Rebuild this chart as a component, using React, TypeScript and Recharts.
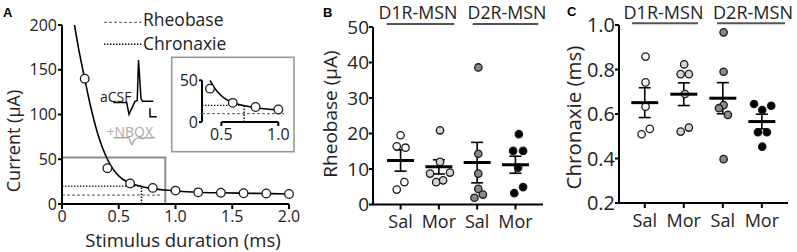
import React from "react";
import {
  ComposedChart,
  LineChart,
  Line,
  Scatter,
  XAxis,
  YAxis,
  ReferenceLine,
  ReferenceArea,
  ErrorBar,
} from "recharts";

const FONT = "'Open Sans', sans-serif";
const INK = "#222";

// ---- Panel A: strength-duration curve ----
const durations = [0.2, 0.4, 0.6, 0.8, 1.0, 1.2, 1.4, 1.6, 1.8, 2.0];
const currents = [140, 40, 23, 18, 15, 13, 12.6, 12, 11.8, 11.2];
// fitted curve
const fitDur = [0.11, 0.15, 0.2, 0.25, 0.3, 0.35, 0.4, 0.45, 0.5, 0.55, 0.6, 0.7, 0.8, 0.9, 1.0, 1.2, 1.4, 1.6, 1.8, 2.0];
const fitCur = [200, 171, 140, 110, 85, 65, 50, 39, 31.5, 26.5, 23.5, 19.5, 17.2, 15.6, 14.6, 13.2, 12.5, 12, 11.7, 11.2];
const rheobase = 10;
const chronaxie = 0.7;
const xTicksA = [0, 0.5, 1, 1.5, 2];
const yTicksA = [0, 50, 100, 150, 200];

// example traces (time ms, amplitude a.u.)
const acsfT = [0.66, 3.34, 3.8, 5.0, 5.45, 5.7, 6.2, 6.5, 8.66];
const acsfV = [0, 0, -3, 0.3, 0.5, 10.7, 1, 0.3, 0.3];
const nbqxT = [0.66, 3.8, 4.05, 4.35, 4.8, 5.4, 9.0];
const nbqxV = [-8.9, -8.9, -9.8, -10.7, -9.6, -9.0, -8.9];

// ---- Panels B and C ----
const conditions = ["Sal", "Mor", "Sal", "Mor"];

const rheoD1SalX = [1.0, 0.9, 1.13, 1.1, 0.9];
const rheoD1Sal = [19.5, 16.4, 16.0, 6.3, 4.2];
const rheoD1MorX = [2.03, 2.03, 1.77, 2.29, 1.93, 2.11];
const rheoD1Mor = [20.9, 12.0, 8.7, 9.0, 6.3, 6.8];
const rheoD2SalX = [3.03, 3.03, 3.03, 3.03, 3.15, 2.93];
const rheoD2Sal = [38.6, 14.3, 8.7, 4.4, 2.8, 1.9];
const rheoD2MorX = [4.09, 3.94, 4.2, 4.07, 4.2, 3.97];
const rheoD2Mor = [19.8, 15.1, 15.1, 10.4, 4.9, 3.2];
const rheoMean = [12.4, 10.6, 11.8, 11.2];
const rheoSem = [3.0, 2.0, 5.7, 2.4];

const chronD1SalX = [1.02, 1.02, 1.02, 1.13, 0.92];
const chronD1Sal = [0.858, 0.742, 0.633, 0.533, 0.509];
const chronD1MorX = [2.01, 1.92, 2.13, 2.03, 1.92, 2.13];
const chronD1Mor = [0.823, 0.779, 0.779, 0.69, 0.521, 0.539];
const chronD2SalX = [3.02, 3.02, 3.02, 2.9, 3.13, 3.02];
const chronD2Sal = [0.967, 0.79, 0.64, 0.626, 0.596, 0.397];
const chronD2MorX = [3.8, 4.24, 4.01, 3.9, 4.13, 4.01];
const chronD2Mor = [0.645, 0.637, 0.618, 0.518, 0.518, 0.453];
const chronMean = [0.651, 0.689, 0.671, 0.566];
const chronSem = [0.067, 0.051, 0.07, 0.033];

const groupFills = ["#ffffff", "#d4d4d4", "#8a8a8a", "#000000"];

const axisLine = { stroke: "#000", strokeWidth: 2 };

const zip = (xs: number[], ys: number[]) => xs.map((x, i) => ({ x, y: ys[i] }));

const dot = (fill: string, r: number) => (p: any) => (
  <circle cx={p.cx} cy={p.cy} r={r} fill={fill} stroke="#1a1a1a" strokeWidth={1.3} />
);

const meanBar = (p: any) => (
  <line x1={p.cx - 13.5} x2={p.cx + 13.5} y1={p.cy} y2={p.cy} stroke="#000" strokeWidth={3} />
);

function PanelA() {
  const pts = zip(durations, currents);
  const fit = zip(fitDur, fitCur);
  const tick = { fill: INK, fontSize: 16, fontFamily: FONT };
  return (
    <ComposedChart width={300} height={252} margin={{ top: 25, right: 11, bottom: 0, left: 0 }}>
      <XAxis
        type="number"
        dataKey="x"
        domain={[0, 2]}
        ticks={xTicksA}
        tickFormatter={(v: number) => (v === 0 ? "0" : v.toFixed(1))}
        height={48}
        axisLine={axisLine}
        tickLine={axisLine}
        tickSize={5}
        tickMargin={2}
        tick={tick}
        interval={0}
      />
      <YAxis
        type="number"
        dataKey="y"
        domain={[0, 200]}
        ticks={yTicksA}
        width={62}
        axisLine={axisLine}
        tickLine={axisLine}
        tickSize={4}
        tickMargin={1}
        tick={tick}
        interval={0}
        allowDataOverflow
      />
      <ReferenceArea x1={0} x2={0.91} y1={0} y2={52} fill="none" stroke="#8c8c8c" strokeWidth={2} />
      <ReferenceLine segment={[{ x: 0, y: rheobase }, { x: 0.88, y: rheobase }]} stroke="#777" strokeWidth={1.3} strokeDasharray="3 2" />
      <ReferenceLine segment={[{ x: 0, y: 2 * rheobase }, { x: chronaxie, y: 2 * rheobase }]} stroke="#000" strokeWidth={1.4} strokeDasharray="1.4 1.6" />
      <ReferenceLine segment={[{ x: chronaxie, y: 0 }, { x: chronaxie, y: 2 * rheobase }]} stroke="#000" strokeWidth={1.4} strokeDasharray="1.4 1.6" />
      <Line data={fit} dataKey="y" type="monotone" dot={false} stroke="#000" strokeWidth={1.6} isAnimationActive={false} />
      <Scatter data={pts} dataKey="y" shape={dot("#fff", 4.3)} isAnimationActive={false} />
    </ComposedChart>
  );
}

function InsetA() {
  const pts = zip(durations, currents).filter((d) => d.x <= 1.0 && d.x >= 0.4);
  const fit = zip(fitDur, fitCur).filter((d) => d.x <= 1.0 && d.x >= 0.4);
  const tick = { fill: INK, fontSize: 16, fontFamily: FONT };
  return (
    <ComposedChart width={125} height={95} margin={{ top: 17, right: 11, bottom: 0, left: 0 }}>
      <XAxis
        type="number"
        dataKey="x"
        domain={[0.33, 1.05]}
        ticks={[0.5, 1.0]}
        tickFormatter={(v: number) => v.toFixed(1)}
        height={28}
        axisLine={false}
        tickLine={axisLine}
        tickSize={4}
        tickMargin={3}
        tick={tick}
        interval={0}
        allowDataOverflow
      />
      <YAxis
        type="number"
        dataKey="y"
        domain={[0, 60]}
        ticks={[0, 50]}
        width={32}
        axisLine={false}
        tickLine={axisLine}
        tickSize={3}
        tickMargin={1}
        tick={tick}
        interval={0}
        allowDataOverflow
      />
      <ReferenceLine segment={[{ x: 0.33, y: 0 }, { x: 0.33, y: 50 }]} stroke="#000" strokeWidth={2} ifOverflow="visible" />
      <ReferenceLine segment={[{ x: 0.5, y: 0 }, { x: 1.0, y: 0 }]} stroke="#000" strokeWidth={2} ifOverflow="visible" />
      <ReferenceLine segment={[{ x: 0.33, y: rheobase }, { x: 1.05, y: rheobase }]} stroke="#777" strokeWidth={1.3} strokeDasharray="3 2" />
      <ReferenceLine segment={[{ x: 0.33, y: 2 * rheobase }, { x: chronaxie, y: 2 * rheobase }]} stroke="#000" strokeWidth={1.4} strokeDasharray="1.4 1.6" />
      <ReferenceLine segment={[{ x: chronaxie, y: 0 }, { x: chronaxie, y: 2 * rheobase }]} stroke="#000" strokeWidth={1.4} strokeDasharray="1.4 1.6" />
      <Line data={fit} dataKey="y" type="monotone" dot={false} stroke="#000" strokeWidth={1.6} isAnimationActive={false} />
      <Scatter data={pts} dataKey="y" shape={dot("#fff", 4.3)} isAnimationActive={false} />
    </ComposedChart>
  );
}

function Traces() {
  const acsf = acsfT.map((t, i) => ({ t, v: acsfV[i] }));
  const nbqx = nbqxT.map((t, i) => ({ t, v: nbqxV[i] }));
  return (
    <LineChart width={50} height={95} margin={{ top: 0, right: 0, bottom: 0, left: 0 }}>
      <XAxis type="number" dataKey="t" domain={[0, 10]} hide height={0} allowDataOverflow />
      <YAxis type="number" domain={[-12, 12]} hide width={0} allowDataOverflow />
      <Line data={acsf} dataKey="v" type="linear" dot={false} stroke="#000" strokeWidth={1.5} isAnimationActive={false} />
      <Line data={nbqx} dataKey="v" type="monotone" dot={false} stroke="#aaa" strokeWidth={1.5} isAnimationActive={false} />
    </LineChart>
  );
}

interface DotPlotProps {
  groups: { x: number[]; y: number[] }[];
  mean: number[];
  sem: number[];
  xDomain: [number, number];
  yDomain: [number, number];
  yTicks: number[];
  yFmt: (v: number) => string;
  width: number;
  yWidth: number;
  top: number;
  right: number;
  xHeight: number;
  tickFont: number;
}

function DotPlot(p: DotPlotProps) {
  const means = p.mean.map((m, i) => ({ x: i + 1, y: m, sem: p.sem[i] }));
  return (
    <ComposedChart width={p.width} height={252} margin={{ top: p.top, right: p.right, bottom: 0, left: 0 }}>
      <XAxis
        type="number"
        dataKey="x"
        domain={p.xDomain}
        ticks={[1, 2, 3, 4]}
        tickFormatter={(v: number) => conditions[Math.round(v) - 1]}
        height={p.xHeight}
        axisLine={axisLine}
        tickLine={axisLine}
        tickSize={5}
        tickMargin={6}
        tick={{ fill: INK, fontSize: 18, fontFamily: FONT }}
        interval={0}
        allowDataOverflow
      />
      <YAxis
        type="number"
        dataKey="y"
        domain={p.yDomain}
        ticks={p.yTicks}
        tickFormatter={p.yFmt}
        width={p.yWidth}
        axisLine={axisLine}
        tickLine={axisLine}
        tickSize={4}
        tickMargin={0}
        tick={{ fill: INK, fontSize: p.tickFont, fontFamily: FONT }}
        interval={0}
        allowDataOverflow
      />
      {p.groups.map((g, i) => (
        <Scatter key={i} data={zip(g.x, g.y)} dataKey="y" shape={dot(groupFills[i], 3.7)} isAnimationActive={false} />
      ))}
      <Scatter data={means} dataKey="y" shape={meanBar} isAnimationActive={false}>
        <ErrorBar dataKey="sem" direction="y" width={6} stroke="#000" strokeWidth={1.6} isAnimationActive={false} />
      </Scatter>
    </ComposedChart>
  );
}

function Annotations() {
  const t = { fontFamily: FONT, fill: INK };
  const bold = { fontSize: 13, fontWeight: "bold", fontFamily: "'Liberation Sans', Arial, sans-serif", fill: "#000" };
  return (
    <svg width={797} height={252} style={{ position: "absolute", left: 0, top: 0, pointerEvents: "none" }}>
      {/* panel letters */}
      <text x={3} y={17} {...bold}>A</text>
      <text x={323} y={17} {...bold}>B</text>
      <text x={567} y={16} {...bold}>C</text>

      {/* panel A legend */}
      <line x1={104} x2={141.5} y1={22.3} y2={22.3} stroke="#777" strokeWidth={1.3} strokeDasharray="3 2" />
      <text x={143} y={25.5} fontSize={17.5} {...t}>Rheobase</text>
      <line x1={104} x2={141.5} y1={44.3} y2={44.3} stroke="#000" strokeWidth={1.4} strokeDasharray="1.4 1.6" />
      <text x={143} y={49.5} fontSize={17.5} {...t}>Chronaxie</text>

      {/* panel A trace labels, scale bar, inset frame */}
      <text x={100} y={102} fontSize={14} {...t}>aCSF</text>
      <text x={106.5} y={136.5} fontSize={14} fontFamily={FONT} fill="#aaa">+NBQX</text>
      <path d="M150 108.3 V116.7 H156.7" fill="none" stroke="#000" strokeWidth={1.5} />
      <rect x={171.7} y={57.3} width={122.3} height={94.4} fill="none" stroke="#999" strokeWidth={1.6} />

      {/* axis titles */}
      <text transform="translate(19.5,141) rotate(-90)" textAnchor="middle" fontSize={18} {...t}>Current (µA)</text>
      <text x={183} y={246.5} textAnchor="middle" fontSize={18.5} {...t}>Stimulus duration (ms)</text>
      <text transform="translate(337,114) rotate(-90)" textAnchor="middle" fontSize={19} {...t}>Rheobase (µA)</text>
      <text transform="translate(581,117.5) rotate(-90)" textAnchor="middle" fontSize={20.5} {...t}>Chronaxie (ms)</text>

      {/* group headers */}
      <text x={418} y={18.8} textAnchor="middle" fontSize={17.8} {...t}>D1R-MSN</text>
      <text x={507} y={18.8} textAnchor="middle" fontSize={17.8} {...t}>D2R-MSN</text>
      <line x1={386.7} x2={454.3} y1={24} y2={24} stroke="#555" strokeWidth={2} />
      <line x1={472.7} x2={538.3} y1={24} y2={24} stroke="#555" strokeWidth={2} />
      <text x={663.5} y={18.8} textAnchor="middle" fontSize={18} {...t}>D1R-MSN</text>
      <text x={753} y={18.8} textAnchor="middle" fontSize={18} {...t}>D2R-MSN</text>
      <line x1={632} x2={698} y1={23.3} y2={23.3} stroke="#555" strokeWidth={2} />
      <line x1={717} x2={785} y1={23.3} y2={23.3} stroke="#555" strokeWidth={2} />
    </svg>
  );
}

export default function App() {
  const rheoGroups = [
    { x: rheoD1SalX, y: rheoD1Sal },
    { x: rheoD1MorX, y: rheoD1Mor },
    { x: rheoD2SalX, y: rheoD2Sal },
    { x: rheoD2MorX, y: rheoD2Mor },
  ];
  const chronGroups = [
    { x: chronD1SalX, y: chronD1Sal },
    { x: chronD1MorX, y: chronD1Mor },
    { x: chronD2SalX, y: chronD2Sal },
    { x: chronD2MorX, y: chronD2Mor },
  ];
  return (
    <div style={{ position: "absolute", left: 0, top: 0, width: 797, height: 252, background: "#fff", fontFamily: FONT }}>
      <div style={{ position: "absolute", left: 0, top: 0 }}>
        <PanelA />
      </div>
      <div style={{ position: "absolute", left: 110, top: 55 }}>
        <Traces />
      </div>
      <div style={{ position: "absolute", left: 170, top: 55 }}>
        <InsetA />
      </div>
      <div style={{ position: "absolute", left: 320, top: 0 }}>
        <DotPlot
          groups={rheoGroups}
          mean={rheoMean}
          sem={rheoSem}
          xDomain={[0.28, 4.72]}
          yDomain={[0, 50]}
          yTicks={[0, 10, 20, 30, 40, 50]}
          yFmt={(v) => String(v)}
          width={230}
          yWidth={53}
          top={27}
          right={7}
          xHeight={47.5}
          tickFont={19}
        />
      </div>
      <div style={{ position: "absolute", left: 550, top: 0 }}>
        <DotPlot
          groups={chronGroups}
          mean={chronMean}
          sem={chronSem}
          xDomain={[0.34, 4.67]}
          yDomain={[0.2, 1.0]}
          yTicks={[0.2, 0.4, 0.6, 0.8, 1.0]}
          yFmt={(v) => v.toFixed(1)}
          width={247}
          yWidth={69}
          top={25}
          right={9}
          xHeight={49}
          tickFont={20}
        />
      </div>
      <Annotations />
    </div>
  );
}
